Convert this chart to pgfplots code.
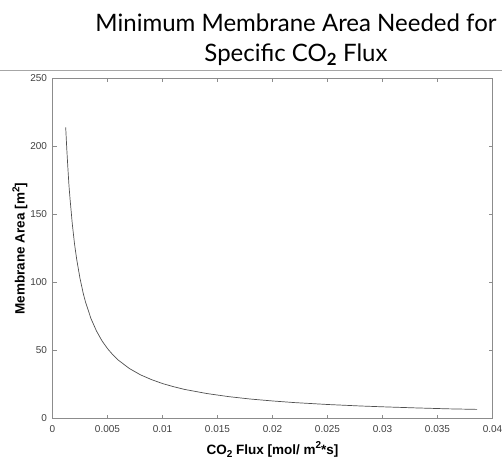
\documentclass[border=0pt]{standalone}
\usepackage{pgfplots}
\pgfplotsset{compat=1.18}
\usepackage{fontspec}
\setmainfont{Liberation Sans}
\newfontfamily\titlefont{Lato}
\definecolor{axgray}{HTML}{8C8C8C}
\definecolor{txtgray}{HTML}{404040}
\definecolor{curve}{HTML}{505050}
\newcommand{\lowtwo}[1]{\raisebox{-0.45ex}{\fontsize{10}{10}\selectfont #1}}
\newcommand{\hightwo}[1]{\raisebox{0.75ex}{\fontsize{10}{10}\selectfont #1}}

\begin{document}
\begin{tikzpicture}[x=1pt,y=1pt]
\path[use as bounding box] (0,0) rectangle (502,465);
% title block
\node[font=\titlefont\fontsize{24}{28}\selectfont,anchor=base] at (296,433) {Minimum Membrane Area Needed for};
\node[font=\titlefont\fontsize{24}{28}\selectfont,anchor=base] at (296,403) {Specific CO\textsubscript{\textbf{2}} Flux};
\draw[black!35,line width=0.8pt] (0,395) -- (502,395);

\begin{axis}[at={(52.5pt,46.5pt)},anchor=south west,scale only axis,
  width=440pt,height=340pt,
  xmin=0,xmax=0.04,ymin=0,ymax=250,
  scaled x ticks=false,
  xtick={0,0.005,0.01,0.015,0.02,0.025,0.03,0.035,0.04},
  xticklabels={0,0.005,0.01,0.015,0.02,0.025,0.03,0.035,0.04},
  ytick={0,50,100,150,200,250},
  tick align=inside,tick pos=both,major tick length=4pt,
  axis line style={axgray,line width=0.6pt},tick style={axgray,line width=0.6pt},
  tick label style={font=\fontsize{10}{12}\selectfont,text=txtgray},
  xticklabel style={yshift=-3pt},
  yticklabel style={xshift=-2pt},
  /pgf/number format/assume math mode=true,
  xlabel={\textbf{CO\lowtwo{2} Flux [mol/ m\hightwo{2}*s]}},
  ylabel={\textbf{Membrane Area [m\hightwo{2}]}},
  label style={font=\bfseries\fontsize{13.5}{15}\selectfont},
  xlabel style={yshift=-3pt},
  ylabel style={yshift=-4pt}]
\addplot[curve,line width=0.7pt] coordinates {
(0.0012,214) (0.0013,198) (0.0014,184) (0.0015,171) (0.0016,161)
(0.0018,143) (0.0020,128.5) (0.0022,117) (0.0025,103) (0.0028,91.8)
(0.0030,85.7) (0.0035,73.4) (0.0040,64.3) (0.0045,57.1) (0.0050,51.4)
(0.0055,46.7) (0.0060,42.8) (0.0070,36.7) (0.0080,32.1) (0.0090,28.6)
(0.0100,25.7) (0.0110,23.4) (0.0120,21.4) (0.0140,18.4) (0.0160,16.1)
(0.0180,14.3) (0.0200,12.9) (0.0220,11.7) (0.0250,10.3) (0.0280,9.2)
(0.0300,8.6) (0.0330,7.8) (0.0360,7.1) (0.0386,6.7)};
\end{axis}
\end{tikzpicture}
\end{document}
